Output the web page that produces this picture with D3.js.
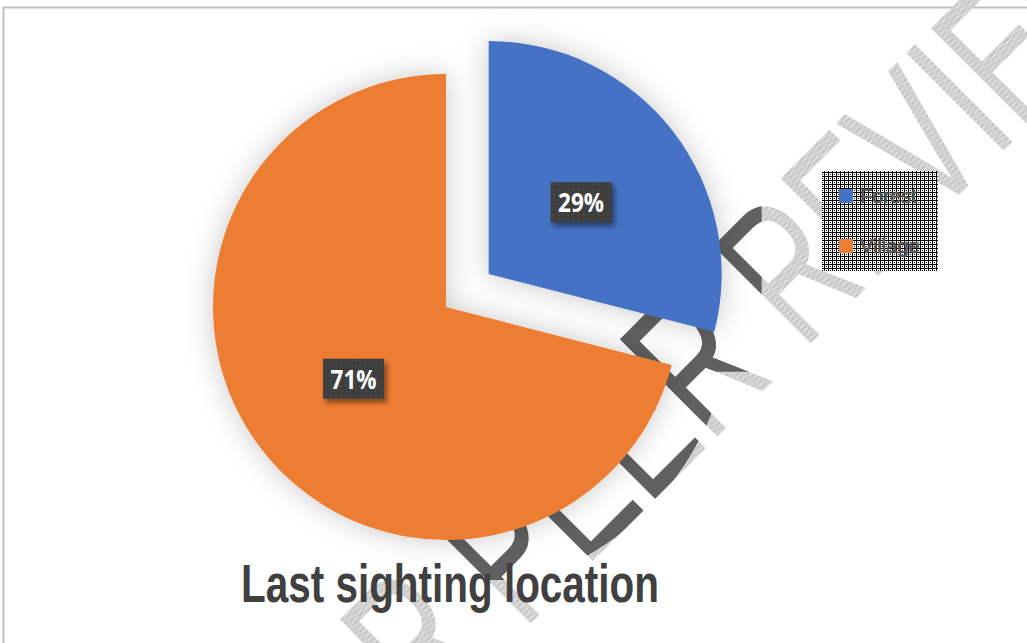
<!DOCTYPE html>
<html><head><meta charset="utf-8">
<script src="https://cdn.jsdelivr.net/npm/d3@7"></script>
<style>html,body{margin:0;padding:0;background:#fff;overflow:hidden}</style>
</head><body>
<svg id="c" width="1027" height="643"></svg>
<script>
const categories = ["Forest", "Village"];
const values = [29, 71];
const colors = ["#4472C4", "#ED7D31"];
const explode = [1, 0];
const titleText = "Last sighting location";
const watermarkText = "FOR PEER REVIEW";

const svg = d3.select("#c");
const defs = svg.append("defs");

// patterns
const hatch = defs.append("pattern").attr("id","hatch").attr("width",2).attr("height",2).attr("patternUnits","userSpaceOnUse");
hatch.append("rect").attr("width",2).attr("height",2).attr("fill","#e6e6e6");
hatch.append("rect").attr("width",1).attr("height",1).attr("fill","#bdbdbd");
hatch.append("rect").attr("x",1).attr("y",1).attr("width",1).attr("height",1).attr("fill","#bdbdbd");

const chk = defs.append("pattern").attr("id","chk").attr("width",4).attr("height",4).attr("patternUnits","userSpaceOnUse");
chk.append("rect").attr("width",4).attr("height",4).attr("fill","#ffffff");
chk.append("rect").attr("width",4).attr("height",1).attr("fill","#000");
chk.append("rect").attr("width",1).attr("height",4).attr("fill","#000");
chk.append("rect").attr("x",2).attr("y",2).attr("width",1).attr("height",1).attr("fill","#000");

const dots = defs.append("pattern").attr("id","dots").attr("width",5).attr("height",5).attr("patternUnits","userSpaceOnUse");
dots.append("rect").attr("width",5).attr("height",5).attr("fill","#3e3e3e");
dots.append("circle").attr("cx",2.5).attr("cy",2.5).attr("r",1).attr("fill","#4a4a4a");

const glow = defs.append("filter").attr("id","glow").attr("x","-30%").attr("y","-30%").attr("width","160%").attr("height","160%");
glow.append("feDropShadow").attr("dx",0).attr("dy",0).attr("stdDeviation",14).attr("flood-color","#000").attr("flood-opacity",0.22);

const bshadow = defs.append("filter").attr("id","bshadow").attr("x","-30%").attr("y","-30%").attr("width","160%").attr("height","160%");
bshadow.append("feDropShadow").attr("dx",3).attr("dy",4).attr("stdDeviation",2.5).attr("flood-color","#000").attr("flood-opacity",0.45);

// frame
svg.append("rect").attr("x",3.5).attr("y",7.5).attr("width",1100).attr("height",1000)
  .attr("fill","#fff").attr("stroke","#bfbfbf").attr("stroke-width",2);

// geometry
const cx = 446, cy = 307, R = 233, off = 54;
const pie = d3.pie().sort(null).value(d => d)(values);
const arc = d3.arc().innerRadius(0).outerRadius(R);
const centerOf = (d,i) => {
  const a = (d.startAngle + d.endAngle) / 2;
  const o = explode[i] ? off : 0;
  return [cx + o * Math.sin(a), cy - o * Math.cos(a)];
};

// watermark
const wmT = "translate(300,854) rotate(-45) scale(0.66,1)";
const wmFont = "'Liberation Sans', Arial, sans-serif";
svg.append("text").attr("transform", wmT)
  .attr("font-family",wmFont).attr("font-size",200)
  .attr("fill","url(#hatch)").text(watermarkText);

// dark part of the watermark inside the pie's shadow zone
pie.forEach((d,i)=>{
  const [x,y] = centerOf(d,i);
  const pts = [[0,0]];
  for (let t = d.startAngle; t <= d.endAngle; t += 0.01) pts.push([R*Math.sin(t), -R*Math.cos(t)]);
  pts.push([R*Math.sin(d.endAngle), -R*Math.cos(d.endAngle)]);
  const pad = 40;
  const x0 = x + d3.min(pts,p=>p[0]) - pad, x1 = x + d3.max(pts,p=>p[0]) + pad;
  const y0 = y + d3.min(pts,p=>p[1]) - pad, y1 = y + d3.max(pts,p=>p[1]) + pad;
  const cid = "cc"+i, rid = "rc"+i;
  defs.append("clipPath").attr("id",cid).append("circle").attr("cx",x).attr("cy",y).attr("r", i===0 ? R+50 : R+53);
  defs.append("clipPath").attr("id",rid).append("rect").attr("x",x0).attr("y",y0).attr("width",x1-x0).attr("height",y1-y0);
  svg.append("g").attr("clip-path",`url(#${cid})`)
    .append("g").attr("clip-path",`url(#${rid})`)
    .append("text").attr("transform", wmT)
    .attr("font-family",wmFont).attr("font-size",200)
    .attr("fill","#606060").text(watermarkText);
});

// pie
const pg = svg.append("g").attr("filter","url(#glow)");
pg.selectAll("path").data(pie).join("path")
  .attr("transform",(d,i)=>`translate(${centerOf(d,i)})`)
  .attr("d", arc).attr("fill",(d,i)=>colors[i]);

// labels
const lblArc = d3.arc().innerRadius(117).outerRadius(117);
const lg = svg.append("g").selectAll("g").data(pie).join("g")
  .attr("transform",(d,i)=>{
    const [x,y] = centerOf(d,i);
    const [lx,ly] = lblArc.centroid(d);
    return `translate(${x+lx},${y+ly})`;
  });
lg.append("rect").attr("x",-30.5).attr("y",-20).attr("width",61).attr("height",40)
  .attr("fill","url(#dots)").attr("filter","url(#bshadow)");
lg.append("text").attr("text-anchor","middle").attr("x",0).attr("y",10)
  .attr("font-family","'Open Sans', 'Noto Sans', sans-serif").attr("font-weight","bold")
  .attr("font-size",26).attr("fill","#fff")
  .attr("textLength",46).attr("lengthAdjust","spacingAndGlyphs")
  .text(d => Math.round(d.data / d3.sum(values) * 100) + "%");

// legend
const leg = svg.append("g");
leg.append("rect").attr("x",822).attr("y",171).attr("width",116).attr("height",100).attr("fill","url(#chk)");
const li = leg.selectAll("g").data(categories).join("g")
  .attr("transform",(d,i)=>`translate(839,${189 + i*50})`);
li.append("rect").attr("width",14).attr("height",14).attr("fill",(d,i)=>colors[i]);
li.append("text").attr("x",21).attr("y",14)
  .attr("font-family","'Liberation Sans', Arial, sans-serif").attr("font-size",20)
  .attr("fill","#555555").attr("stroke","#555555").attr("stroke-width",0.7)
  .text(d=>d);

// title
svg.append("text").attr("x",241).attr("y",602)
  .attr("font-family","'Liberation Sans Narrow', 'Liberation Sans', Arial, sans-serif")
  .attr("font-weight","bold").attr("font-size",53).attr("fill","#404040")
  .attr("textLength",418).attr("lengthAdjust","spacingAndGlyphs")
  .text(titleText);
</script>
</body></html>
